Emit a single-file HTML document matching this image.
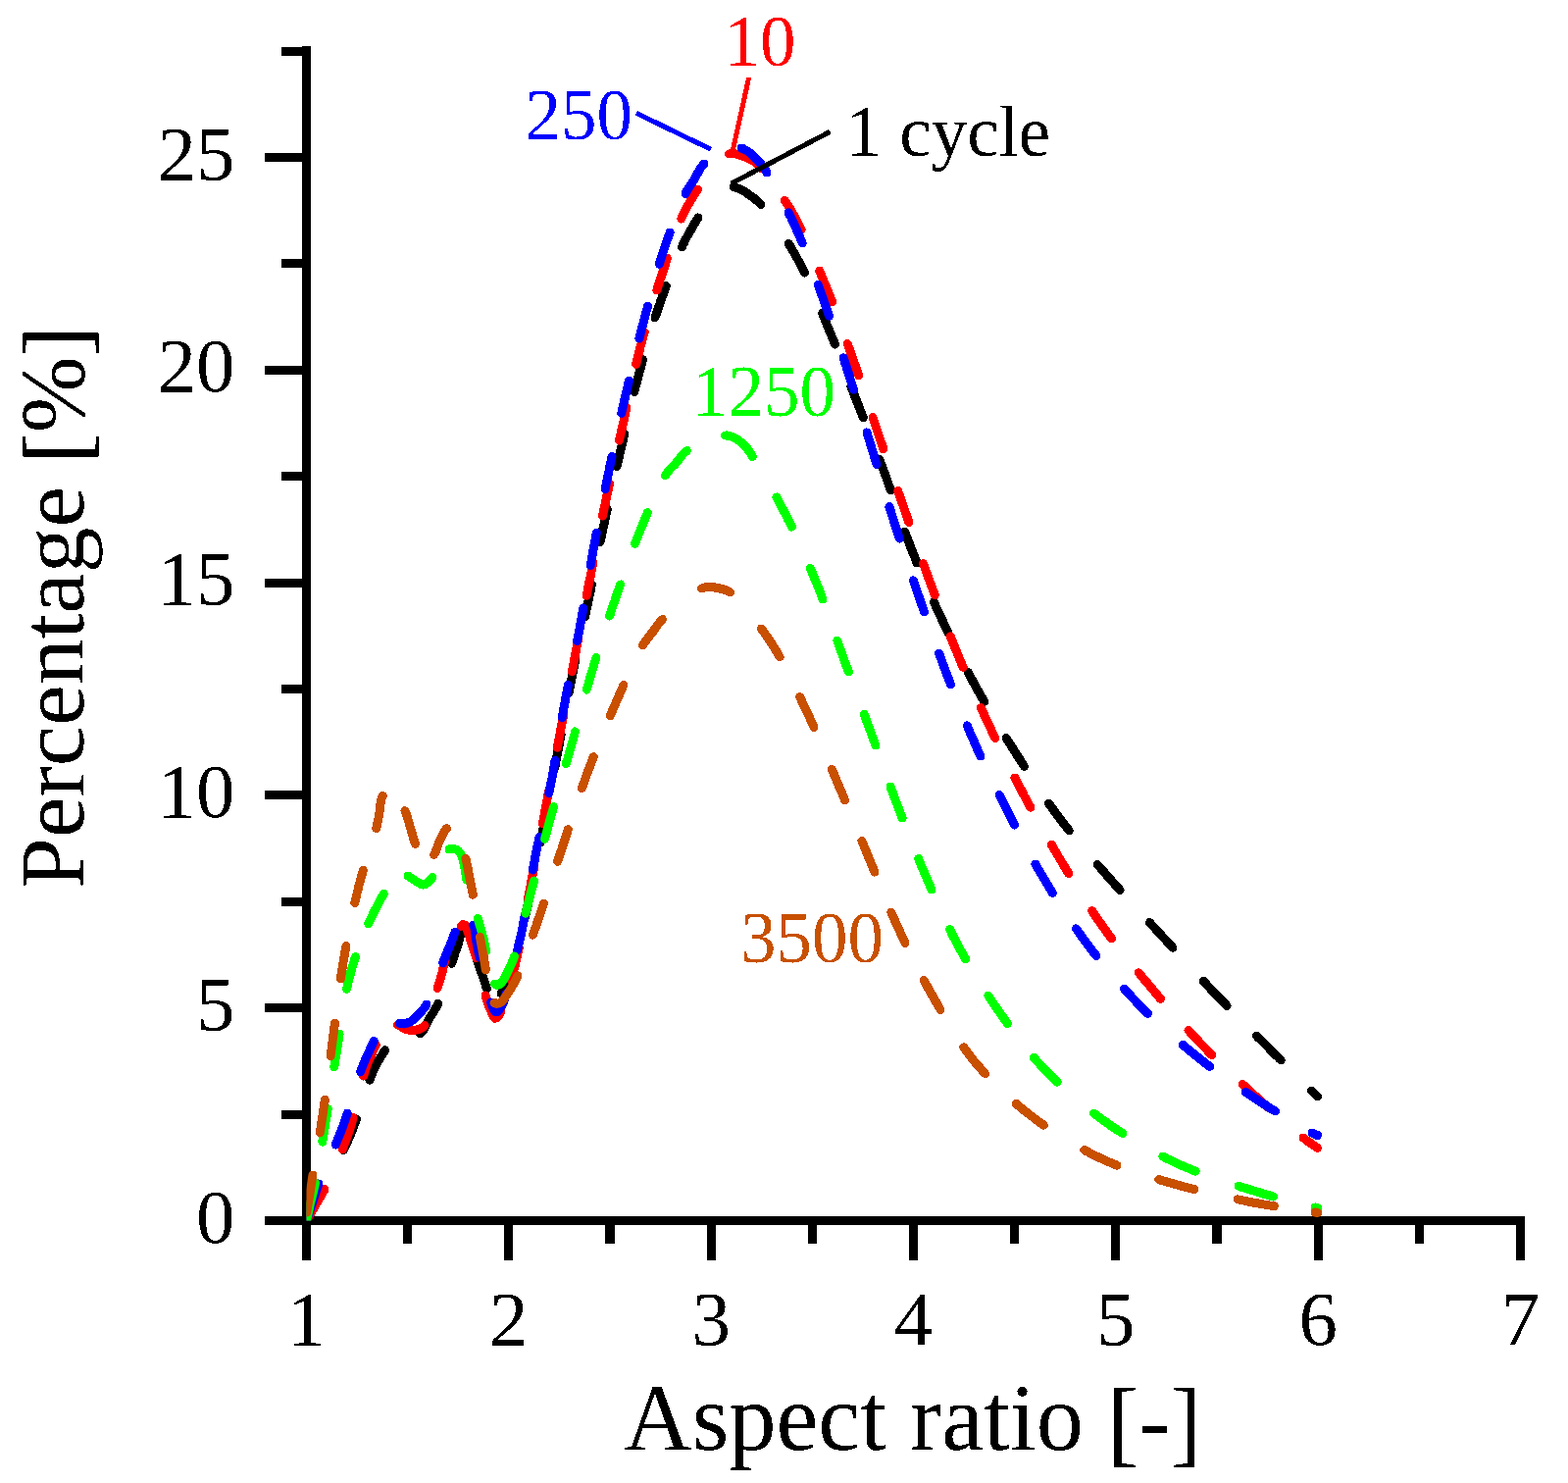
<!DOCTYPE html>
<html><head><meta charset="utf-8"><style>
html,body{margin:0;padding:0;background:#fff;}
svg{display:block;}
</style></head><body>
<svg width="1599" height="1512" viewBox="0 0 1599 1512">
<rect width="1599" height="1512" fill="#fff"/>
<defs><filter id="crisp" x="0" y="0" width="1599" height="1512" filterUnits="userSpaceOnUse" color-interpolation-filters="sRGB"><feComponentTransfer><feFuncA type="discrete" tableValues="0 1"/></feComponentTransfer></filter></defs><g filter="url(#crisp)">
<g fill="#000"><rect x="308" y="47" width="9" height="1238"/><rect x="308" y="1240" width="1247" height="9"/><rect x="270" y="1240.0" width="40" height="9"/><rect x="270" y="1023.2" width="40" height="9"/><rect x="270" y="806.4" width="40" height="9"/><rect x="270" y="589.6" width="40" height="9"/><rect x="270" y="372.8" width="40" height="9"/><rect x="270" y="156.0" width="40" height="9"/><rect x="287" y="1131.6" width="23" height="9"/><rect x="287" y="914.8" width="23" height="9"/><rect x="287" y="698.0" width="23" height="9"/><rect x="287" y="481.2" width="23" height="9"/><rect x="287" y="264.4" width="23" height="9"/><rect x="287" y="47.6" width="23" height="9"/><rect x="308.0" y="1247" width="9" height="38"/><rect x="514.3" y="1247" width="9" height="38"/><rect x="720.7" y="1247" width="9" height="38"/><rect x="927.0" y="1247" width="9" height="38"/><rect x="1133.3" y="1247" width="9" height="38"/><rect x="1339.7" y="1247" width="9" height="38"/><rect x="1546.0" y="1247" width="9" height="38"/><rect x="411.2" y="1247" width="9" height="21"/><rect x="617.5" y="1247" width="9" height="21"/><rect x="823.8" y="1247" width="9" height="21"/><rect x="1030.2" y="1247" width="9" height="21"/><rect x="1236.5" y="1247" width="9" height="21"/><rect x="1442.8" y="1247" width="9" height="21"/></g><g font-family="Liberation Serif, serif" font-size="79" fill="#000"><text x="239.5" y="1266.5" text-anchor="end">0</text><text x="239.5" y="1049.7" text-anchor="end">5</text><text x="239.5" y="832.9" text-anchor="end">10</text><text x="239.5" y="616.1" text-anchor="end">15</text><text x="239.5" y="399.3" text-anchor="end">20</text><text x="239.5" y="182.5" text-anchor="end">25</text><text x="312.5" y="1370.5" text-anchor="middle">1</text><text x="518.8" y="1370.5" text-anchor="middle">2</text><text x="725.2" y="1370.5" text-anchor="middle">3</text><text x="931.5" y="1370.5" text-anchor="middle">4</text><text x="1137.8" y="1370.5" text-anchor="middle">5</text><text x="1344.2" y="1370.5" text-anchor="middle">6</text><text x="1550.5" y="1370.5" text-anchor="middle">7</text></g><text x="636" y="1478.4" font-family="Liberation Serif, serif" font-size="96.5" fill="#000">Aspect ratio <tspan dy="5">[</tspan><tspan dy="-3">-</tspan><tspan dy="3">]</tspan></text><text transform="translate(84.7,906) rotate(-90)" x="0" y="0" font-family="Liberation Serif, serif" font-size="93.5" fill="#000">Percentage <tspan dy="4">[</tspan><tspan dy="-4">%</tspan><tspan dy="4">]</tspan></text>
<defs><clipPath id="pc"><rect x="312.5" y="0" width="1035.5" height="1244.5"/></clipPath></defs><g clip-path="url(#pc)" fill="none" stroke-width="9" stroke-linecap="round" stroke-linejoin="round"><path d="M312.5 1244.5L313.7 1242.3 314.9 1240.0 316.1 1237.8 317.4 1235.6 318.6 1233.3 319.8 1231.1 321.1 1228.9 322.3 1226.7 323.6 1224.5 325.0 1222.3 326.3 1220.2 327.5 1218.0 328.8 1215.7 330.0 1213.5M350.4 1172.6L351.4 1170.2 352.5 1167.8 353.6 1165.4 354.7 1163.0 355.7 1160.6 356.8 1158.2 357.8 1155.8 358.8 1153.4 359.8 1150.9 360.7 1148.5 361.6 1146.0 362.5 1143.5 363.4 1141.1M377.0 1101.0L378.0 1098.6 378.9 1096.1 379.9 1093.7 381.0 1091.3 382.1 1088.9 383.3 1086.6 384.5 1084.2 385.8 1081.9 387.1 1079.7 388.4 1077.4 389.8 1075.2 391.2 1072.9 392.7 1070.8M428.5 1054.0L430.3 1052.2 431.8 1050.1 433.1 1047.9 434.2 1045.6 435.3 1043.3 436.4 1041.0 437.7 1038.7 439.0 1036.5 440.4 1034.4 441.8 1032.2 443.1 1030.0 444.4 1027.8 445.6 1025.5 446.7 1023.2M460.7 982.2L461.5 979.7 462.3 977.2 463.1 974.7 463.9 972.2 464.7 969.7 465.6 967.2 466.4 964.8 467.2 962.3 467.9 959.7 468.6 957.2 469.3 954.7 470.0 952.2 470.8 949.7M485.8 975.8L486.5 978.3 487.3 980.8 488.0 983.3 488.8 985.8 489.6 988.3 490.5 990.8 491.5 993.2 492.4 995.7 493.2 998.2 494.0 1000.7 494.8 1003.2 495.6 1005.7 496.4 1008.2M511.0 1012.8L512.5 1010.6 513.9 1008.4 515.2 1006.1 516.5 1003.8 517.7 1001.5 518.9 999.2 520.1 996.8 521.1 994.4 522.1 992.0 522.9 989.5 523.8 987.0 524.6 984.5 525.3 982.0M535.5 935.1L536.0 932.6 536.6 930.0 537.1 927.5 537.6 924.9 538.2 922.3 538.7 919.8 539.3 917.2 539.9 914.7 540.4 912.1 541.0 909.6 541.5 907.0 542.1 904.4 542.6 901.9M551.2 858.7L551.7 856.1 552.2 853.6 552.7 851.0 553.2 848.4 553.7 845.9 554.2 843.3 554.8 840.7 555.3 838.1 555.8 835.6 556.2 833.0 556.7 830.4 557.2 827.9 557.7 825.3M565.9 782.2L566.3 779.6 566.8 777.1 567.3 774.5 567.8 771.9 568.3 769.4 568.8 766.8 569.2 764.2 569.7 761.6 570.2 759.1 570.7 756.5 571.2 753.9 571.7 751.4 572.1 748.8M580.2 705.7L580.7 703.1 581.2 700.5 581.7 698.0 582.2 695.4 582.7 692.8 583.2 690.3 583.8 687.7 584.3 685.2 584.8 682.6 585.3 680.0 585.9 677.5 586.4 674.9 587.0 672.4M596.4 629.1L597.0 626.6 597.5 624.0 598.1 621.5 598.6 618.9 599.2 616.3 599.7 613.8 600.3 611.2 600.8 608.7 601.3 606.1 601.9 603.5 602.4 601.0 602.9 598.4 603.4 595.8M612.1 552.6L612.6 550.1 613.2 547.5 613.7 545.0 614.2 542.4 614.8 539.8 615.3 537.3 615.9 534.7 616.4 532.2 617.0 529.6 617.5 527.1 618.1 524.5 618.6 521.9 619.2 519.4M629.1 475.6L629.7 473.0 630.2 470.5 630.8 467.9 631.4 465.4 632.0 462.8 632.6 460.3 633.2 457.7 633.8 455.2 634.4 452.6 635.0 450.1 635.5 447.5 636.1 445.0 636.7 442.4M646.8 399.5L647.5 396.9 648.1 394.4 648.8 391.9 649.4 389.3 650.1 386.8 650.8 384.3 651.4 381.7 652.1 379.2 652.8 376.7 653.5 374.2 654.2 371.6 654.8 369.1 655.5 366.6M668.0 323.8L668.9 321.3 669.7 318.8 670.5 316.4 671.3 313.9 672.2 311.4 673.1 308.9 673.9 306.5 674.8 304.0 675.7 301.5 676.6 299.1 677.5 296.6 678.4 294.1 679.3 291.7M695.4 251.8L696.5 249.4 697.7 247.1 698.8 244.7 700.0 242.4 701.3 240.1 702.6 237.7 703.9 235.5 705.2 233.2 706.5 230.9 707.8 228.6 709.2 226.4 710.6 224.1 712.0 221.9M748.0 190.5L750.5 191.2 752.9 192.1 755.3 193.1 757.6 194.3 759.8 195.6 762.0 197.1 764.1 198.6 766.2 200.1 768.3 201.7 770.3 203.2 772.3 204.8 774.2 206.6 776.0 208.5M804.0 248.2L805.4 250.4 806.8 252.6 808.1 254.9 809.4 257.2 810.8 259.5 812.1 261.8 813.3 264.1 814.6 266.4 815.8 268.7 817.0 271.0 818.2 273.4 819.4 275.7 820.5 278.1M838.5 319.4L839.5 321.9 840.5 324.3 841.5 326.7 842.5 329.1 843.5 331.6 844.5 334.0 845.5 336.4 846.5 338.8 847.5 341.3 848.5 343.7 849.5 346.1 850.4 348.6 851.4 351.0M867.9 393.9L868.8 396.3 869.8 398.8 870.7 401.2 871.6 403.7 872.6 406.1 873.5 408.6 874.5 411.0 875.4 413.5 876.4 415.9 877.3 418.3 878.3 420.8 879.2 423.2 880.2 425.7M896.6 468.0L897.5 470.4 898.5 472.9 899.4 475.3 900.3 477.8 901.2 480.2 902.1 482.7 903.1 485.1 904.0 487.6 904.8 490.1 905.7 492.5 906.6 495.0 907.5 497.5 908.3 499.9M922.8 542.1L923.7 544.6 924.6 547.1 925.5 549.5 926.5 552.0 927.4 554.4 928.3 556.9 929.3 559.3 930.2 561.8 931.2 564.2 932.2 566.6 933.2 569.1 934.1 571.5 935.1 573.9M952.4 613.8L953.5 616.2 954.5 618.6 955.6 621.0 956.7 623.3 957.8 625.7 958.9 628.1 960.1 630.5 961.2 632.9 962.3 635.2 963.4 637.6 964.5 640.0 965.7 642.4 966.8 644.7M987.2 685.4L988.4 687.8 989.7 690.1 990.9 692.4 992.1 694.7 993.4 697.0 994.7 699.3 995.9 701.7 997.2 704.0 998.5 706.2 999.8 708.5 1001.1 710.8 1002.4 713.1 1003.7 715.4M1026.1 752.5L1027.5 754.7 1028.9 757.0 1030.4 759.2 1031.8 761.4 1033.2 763.7 1034.6 765.9 1036.0 768.1 1037.4 770.3 1038.8 772.6 1040.3 774.8 1041.7 777.0 1043.1 779.2 1044.5 781.5M1069.6 819.1L1071.1 821.3 1072.7 823.5 1074.2 825.6 1075.8 827.8 1077.3 829.9 1078.9 832.0 1080.5 834.2 1082.1 836.3 1083.7 838.4 1085.3 840.5 1087.0 842.6 1088.6 844.7 1090.2 846.8M1119.2 881.4L1121.0 883.4 1122.7 885.4 1124.5 887.4 1126.2 889.5 1128.0 891.5 1129.7 893.5 1131.5 895.5 1133.2 897.5 1135.0 899.5 1136.8 901.5 1138.5 903.5 1140.3 905.5 1142.1 907.5M1172.4 940.6L1174.2 942.6 1176.0 944.5 1177.9 946.5 1179.7 948.5 1181.5 950.4 1183.3 952.4 1185.1 954.4 1186.9 956.4 1188.7 958.3 1190.5 960.3 1192.3 962.3 1194.1 964.3 1195.9 966.3M1227.0 1000.2L1228.9 1002.2 1230.7 1004.1 1232.5 1006.1 1234.4 1008.0 1236.2 1010.0 1238.1 1011.9 1239.9 1013.9 1241.8 1015.8 1243.6 1017.7 1245.5 1019.7 1247.4 1021.6 1249.3 1023.5 1251.1 1025.5M1281.5 1056.1L1283.4 1058.0 1285.3 1059.9 1287.2 1061.8 1289.2 1063.7 1291.1 1065.6 1293.0 1067.5 1294.8 1069.5 1296.7 1071.4 1298.6 1073.3 1300.6 1075.2 1302.5 1077.1 1304.4 1079.0 1306.3 1080.9M1337.5 1112.0L1339.5 1114.0 1341.5 1116.0 1343.5 1118.0" stroke="#000"/><path d="M312.5 1244.5L313.8 1242.2 315.1 1239.9 316.4 1237.6 317.8 1235.3 319.1 1233.1 320.4 1230.8 321.7 1228.5 323.1 1226.2 324.4 1224.0 325.8 1221.7 327.2 1219.4 328.5 1217.2 329.8 1214.8 331.0 1212.5M349.2 1171.8L350.1 1169.4 351.1 1166.9 352.0 1164.5 353.0 1162.1 353.9 1159.6 354.8 1157.1 355.6 1154.7 356.5 1152.2 357.2 1149.7 358.0 1147.2 358.7 1144.7 359.4 1142.1 360.1 1139.6M370.7 1097.1L371.5 1094.6 372.2 1092.1 373.0 1089.6 373.9 1087.1 374.7 1084.7 375.7 1082.2 376.7 1079.8 377.8 1077.4 378.8 1075.0 379.9 1072.6 381.0 1070.2 382.1 1067.8 383.3 1065.5M405.5 1045.0L407.8 1045.9 409.9 1047.3 412.1 1048.6 414.4 1049.5 416.9 1050.1 419.3 1050.4 421.8 1050.5 424.3 1050.1 426.8 1049.5 429.1 1048.5 431.3 1047.3 433.0 1045.5M446.0 1007.5L446.8 1004.9 447.7 1002.4 448.5 999.8 449.3 997.2 450.0 994.7 450.8 992.1 451.4 989.4 451.9 986.8 452.5 984.2 453.2 981.6 454.0 979.0M470.0 944.5L471.9 942.8 474.2 943.0 475.3 945.2 476.2 947.6 477.0 950.0 477.9 952.4 478.7 954.8 479.4 957.2 480.1 959.6 480.9 962.0 481.6 964.5 482.4 966.9 483.2 969.3 484.0 971.7 484.8 974.1 485.5 976.5M495.0 1015.0L495.8 1017.4 496.5 1019.9 497.4 1022.3 498.2 1024.7 499.2 1027.1 500.2 1029.5 501.2 1031.8 502.1 1034.2 503.2 1036.5 504.8 1038.4 507.1 1037.5 508.8 1035.6 510.0 1033.4 511.0 1031.0M521.1 999.4L521.8 996.9 522.5 994.4 523.2 991.9 523.9 989.3 524.5 986.8 525.2 984.3 525.8 981.7 526.4 979.2 527.0 976.6 527.6 974.1 528.1 971.5 528.7 969.0 529.2 966.4M538.4 917.2L538.9 914.6 539.3 912.1 539.8 909.5 540.3 906.9 540.8 904.4 541.3 901.8 541.7 899.2 542.2 896.6 542.7 894.1 543.2 891.5 543.7 888.9 544.2 886.4 544.7 883.8M553.3 839.7L553.8 837.1 554.3 834.6 554.8 832.0 555.3 829.4 555.8 826.9 556.3 824.3 556.7 821.7 557.2 819.1 557.7 816.6 558.2 814.0 558.7 811.4 559.2 808.9 559.7 806.3M568.3 762.2L568.8 759.6 569.3 757.1 569.8 754.5 570.3 751.9 570.8 749.4 571.3 746.8 571.7 744.2 572.2 741.6 572.7 739.1 573.2 736.5 573.7 733.9 574.2 731.4 574.7 728.8M583.3 684.7L583.8 682.1 584.3 679.6 584.8 677.0 585.3 674.4 585.8 671.9 586.3 669.3 586.7 666.7 587.2 664.1 587.7 661.6 588.2 659.0 588.7 656.4 589.2 653.9 589.7 651.3M598.2 607.2L598.7 604.6 599.2 602.0 599.7 599.5 600.2 596.9 600.7 594.3 601.2 591.8 601.8 589.2 602.3 586.7 602.8 584.1 603.3 581.5 603.8 579.0 604.3 576.4 604.8 573.8M614.5 526.1L615.0 523.6 615.6 521.0 616.1 518.5 616.6 515.9 617.2 513.3 617.7 510.8 618.3 508.2 618.8 505.7 619.4 503.1 619.9 500.5 620.5 498.0 621.0 495.4 621.6 492.9M631.4 449.1L632.0 446.5 632.6 444.0 633.2 441.4 633.8 438.9 634.3 436.3 634.9 433.8 635.5 431.2 636.1 428.7 636.6 426.1 637.2 423.6 637.7 421.0 638.3 418.4 638.9 415.9M648.7 371.4L649.3 368.9 649.9 366.3 650.5 363.8 651.2 361.2 651.8 358.7 652.5 356.2 653.1 353.6 653.8 351.1 654.5 348.6 655.1 346.0 655.8 343.5 656.5 341.0 657.2 338.5M669.8 295.8L670.6 293.3 671.4 290.8 672.2 288.3 673.0 285.8 673.9 283.3 674.7 280.8 675.5 278.4 676.3 275.9 677.2 273.4 678.0 270.9 678.8 268.4 679.6 265.9 680.4 263.4M694.8 223.0L695.8 220.6 696.9 218.2 698.1 215.8 699.3 213.5 700.5 211.2 701.7 208.8 703.1 206.6 704.4 204.3 705.8 202.0 707.2 199.8 708.6 197.6 710.0 195.4 711.5 193.2M743.5 157.0L746.0 156.4 748.5 156.6 750.9 157.2 753.4 157.8 755.9 158.6 758.2 159.4 760.6 160.4 762.9 161.4 765.2 162.5 767.5 163.7 769.6 165.0 771.7 166.5 773.6 168.2 775.4 170.1 777.0 172.0M800.3 204.3L801.7 206.5 803.1 208.7 804.5 211.0 805.9 213.2 807.2 215.5 808.5 217.8 809.8 220.0 811.1 222.4 812.4 224.7 813.6 227.0 814.8 229.4 816.0 231.7 817.1 234.1M835.7 276.0L836.7 278.5 837.7 280.9 838.7 283.3 839.7 285.7 840.7 288.2 841.7 290.6 842.7 293.0 843.7 295.4 844.7 297.9 845.6 300.3 846.6 302.7 847.6 305.2 848.5 307.6M864.3 350.5L865.2 352.9 866.1 355.4 866.9 357.9 867.8 360.3 868.7 362.8 869.6 365.3 870.4 367.7 871.3 370.2 872.2 372.7 873.0 375.2 873.9 377.6 874.7 380.1 875.6 382.6M890.0 425.6L890.8 428.1 891.6 430.5 892.5 433.0 893.3 435.5 894.1 438.0 895.0 440.5 895.8 442.9 896.7 445.4 897.5 447.9 898.4 450.4 899.2 452.8 900.1 455.3 900.9 457.8M915.7 500.4L916.6 502.9 917.4 505.4 918.3 507.8 919.1 510.3 920.0 512.8 920.9 515.3 921.7 517.7 922.6 520.2 923.5 522.7 924.3 525.2 925.2 527.6 926.0 530.1 926.9 532.6M941.5 574.5L942.4 577.0 943.3 579.4 944.2 581.9 945.1 584.3 946.0 586.8 946.8 589.3 947.8 591.7 948.7 594.2 949.6 596.6 950.5 599.1 951.4 601.6 952.3 604.0 953.2 606.5M969.2 648.8L970.2 651.2 971.2 653.7 972.1 656.1 973.1 658.5 974.1 661.0 975.1 663.4 976.1 665.8 977.1 668.2 978.1 670.7 979.1 673.1 980.1 675.5 981.1 677.9 982.2 680.3M1000.3 721.5L1001.4 723.9 1002.5 726.3 1003.6 728.7 1004.7 731.1 1005.8 733.4 1006.9 735.8 1008.1 738.2 1009.2 740.6 1010.3 742.9 1011.4 745.3 1012.5 747.7 1013.7 750.1 1014.8 752.4M1034.9 792.9L1036.1 795.3 1037.3 797.6 1038.5 799.9 1039.7 802.3 1041.0 804.6 1042.2 806.9 1043.4 809.3 1044.6 811.6 1045.9 813.9 1047.1 816.2 1048.4 818.5 1049.6 820.9 1050.9 823.2M1072.3 861.2L1073.6 863.5 1075.0 865.8 1076.3 868.1 1077.6 870.3 1079.0 872.6 1080.3 874.9 1081.7 877.1 1083.0 879.4 1084.4 881.7 1085.7 883.9 1087.1 886.2 1088.4 888.4 1089.8 890.7M1113.6 928.6L1115.0 930.8 1116.5 933.0 1118.0 935.2 1119.5 937.4 1121.0 939.5 1122.5 941.7 1124.1 943.9 1125.6 946.0 1127.2 948.2 1128.7 950.3 1130.3 952.5 1131.9 954.6 1133.5 956.7M1161.2 991.7L1162.9 993.7 1164.6 995.8 1166.3 997.8 1168.0 999.9 1169.7 1001.9 1171.4 1004.0 1173.2 1006.0 1174.9 1008.1 1176.6 1010.1 1178.3 1012.2 1180.0 1014.2 1181.7 1016.2 1183.5 1018.3M1211.9 1050.5L1213.7 1052.4 1215.5 1054.4 1217.3 1056.4 1219.2 1058.3 1221.0 1060.3 1222.9 1062.2 1224.7 1064.2 1226.6 1066.1 1228.5 1068.0 1230.3 1069.9 1232.2 1071.9 1234.1 1073.8 1236.0 1075.7M1267.1 1105.5L1268.9 1107.2 1270.8 1108.9 1272.6 1110.6 1274.4 1112.3 1276.3 1114.0 1278.1 1115.7 1280.0 1117.4 1281.9 1119.1 1283.7 1120.8 1285.6 1122.5 1287.4 1124.2 1289.3 1125.8 1291.2 1127.5 1293.0 1129.2M1329.0 1160.0L1331.0 1161.6 1333.1 1163.1 1335.1 1164.6 1337.2 1166.0 1339.3 1167.5 1341.4 1168.9 1343.5 1170.4" stroke="#f00"/><path d="M312.5 1244.5L313.3 1242.0 314.2 1239.5 315.0 1237.0 315.8 1234.5 316.7 1232.0 317.5 1229.5 318.3 1227.0 319.2 1224.5 320.0 1222.0 320.8 1219.5 321.6 1217.0 322.4 1214.5 323.2 1212.0 324.1 1209.5 325.0 1207.0M342.2 1167.0L343.2 1164.6 344.2 1162.1 345.2 1159.7 346.2 1157.3 347.2 1154.9 348.1 1152.4 349.1 1150.0 350.0 1147.5 350.8 1145.0 351.7 1142.6 352.5 1140.1 353.4 1137.6 354.2 1135.1M367.7 1092.7L368.5 1090.3 369.5 1087.8 370.4 1085.3 371.4 1082.9 372.4 1080.5 373.4 1078.1 374.6 1075.7 375.7 1073.3 376.8 1071.0 377.9 1068.6 379.1 1066.2 380.2 1063.9 381.4 1061.5M407.5 1043.5L410.1 1043.6 412.6 1043.7 415.1 1043.2 417.4 1042.2 419.7 1040.9 421.7 1039.4 423.6 1037.7 425.4 1035.9 427.1 1034.0 428.8 1032.1 430.5 1030.2 432.2 1028.3 433.7 1026.2 435.0 1024.0M451.7 981.8L452.6 979.4 453.6 976.9 454.5 974.5 455.5 972.0 456.5 969.6 457.5 967.2 458.5 964.8 459.5 962.4 460.5 959.9 461.4 957.5 462.3 955.0 463.2 952.5 464.1 950.1M482.5 943.0L483.7 945.3 484.3 947.8 484.6 950.4 484.9 953.0 485.1 955.6 485.5 958.1 486.0 960.7 486.5 963.3 487.0 965.8 487.4 968.4 487.9 970.9 488.5 973.5 489.0 976.0M500.5 1022.0L501.4 1024.4 502.4 1026.9 503.4 1029.2 504.9 1031.4 507.2 1031.6 509.0 1029.7 510.5 1027.5 511.8 1025.3 513.0 1023.0 513.9 1020.5 514.6 1018.0 515.3 1015.5 516.0 1013.0M527.7 968.4L528.3 965.8 528.9 963.3 529.5 960.7 530.1 958.2 530.7 955.6 531.2 953.1 531.8 950.5 532.3 948.0 532.9 945.4 533.4 942.8 533.9 940.3 534.4 937.7 534.9 935.1M543.4 886.9L543.8 884.3 544.3 881.8 544.8 879.2 545.3 876.6 545.7 874.1 546.2 871.5 546.8 868.9 547.3 866.4 547.8 863.8 548.3 861.2 548.9 858.7 549.4 856.1 549.9 853.5M559.7 808.7L560.3 806.1 560.8 803.5 561.3 801.0 561.8 798.4 562.4 795.9 562.9 793.3 563.3 790.7 563.8 788.1 564.3 785.6 564.8 783.0 565.2 780.4 565.7 777.8 566.1 775.3M573.3 731.7L573.7 729.2 574.1 726.6 574.6 724.0 575.0 721.4 575.5 718.9 576.0 716.3 576.4 713.7 576.9 711.1 577.4 708.6 577.9 706.0 578.4 703.4 578.9 700.9 579.4 698.3M588.6 653.5L589.1 650.9 589.6 648.4 590.1 645.8 590.6 643.2 591.1 640.7 591.6 638.1 592.0 635.5 592.5 632.9 593.0 630.4 593.4 627.8 593.9 625.2 594.4 622.6 594.8 620.1M602.2 576.5L602.7 574.0 603.1 571.4 603.6 568.8 604.0 566.2 604.5 563.7 605.0 561.1 605.4 558.5 605.9 555.9 606.4 553.4 606.9 550.8 607.4 548.2 607.8 545.7 608.3 543.1M617.1 498.7L617.6 496.1 618.1 493.5 618.6 491.0 619.2 488.4 619.7 485.8 620.2 483.3 620.8 480.7 621.3 478.2 621.8 475.6 622.4 473.0 622.9 470.5 623.5 467.9 624.0 465.4M633.7 421.4L634.3 418.8 634.9 416.3 635.4 413.7 636.0 411.2 636.6 408.6 637.2 406.1 637.8 403.5 638.4 401.0 639.0 398.4 639.6 395.9 640.2 393.3 640.8 390.8 641.4 388.2M651.9 345.0L652.6 342.4 653.2 339.9 653.9 337.4 654.5 334.8 655.2 332.3 655.9 329.8 656.5 327.2 657.2 324.7 657.9 322.2 658.5 319.6 659.2 317.1 659.9 314.6 660.5 312.1M672.4 269.2L673.1 266.7 673.9 264.2 674.7 261.7 675.5 259.2 676.3 256.7 677.1 254.2 677.9 251.8 678.8 249.3 679.6 246.8 680.5 244.3 681.3 241.9 682.2 239.4 683.1 236.9M699.0 197.5L700.2 195.2 701.4 193.0 702.8 190.8 704.1 188.6 705.6 186.5 707.0 184.3 708.4 182.2 709.7 179.9 710.9 177.7 712.1 175.4 713.4 173.2 714.7 171.0 716.3 168.9 718.0 167.0M756.0 151.0L758.4 152.0 760.8 153.2 763.0 154.5 765.1 156.1 767.0 157.9 768.8 159.8 770.7 161.7 772.5 163.5 774.3 165.4 776.1 167.4 777.7 169.4 779.2 171.5 780.7 173.8 782.0 176.0M804.1 216.8L805.3 219.2 806.5 221.5 807.6 223.9 808.7 226.2 809.9 228.6 811.0 231.0 812.0 233.4 813.1 235.8 814.2 238.2 815.2 240.6 816.2 243.0 817.2 245.5 818.2 247.9M834.1 290.2L835.0 292.6 835.9 295.1 836.8 297.6 837.7 300.0 838.6 302.5 839.5 305.0 840.3 307.4 841.2 309.9 842.1 312.4 843.0 314.8 843.9 317.3 844.7 319.8 845.6 322.2M860.0 364.7L860.8 367.2 861.6 369.7 862.5 372.2 863.3 374.7 864.1 377.2 864.9 379.7 865.7 382.1 866.5 384.6 867.3 387.1 868.1 389.6 868.9 392.1 869.7 394.6 870.5 397.1M884.0 440.9L884.8 443.4 885.5 445.9 886.3 448.4 887.1 450.9 887.8 453.4 888.6 455.9 889.4 458.5 890.2 461.0 890.9 463.5 891.7 466.0 892.4 468.5 893.2 471.0 893.9 473.5M906.9 516.6L907.7 519.1 908.5 521.6 909.3 524.1 910.0 526.6 910.8 529.1 911.6 531.6 912.4 534.0 913.2 536.5 914.0 539.0 914.8 541.5 915.6 544.0 916.4 546.5 917.2 549.0M931.4 591.8L932.2 594.3 933.1 596.8 933.9 599.2 934.8 601.7 935.6 604.2 936.5 606.7 937.3 609.1 938.2 611.6 939.0 614.1 939.9 616.6 940.8 619.0 941.6 621.5 942.5 624.0M957.5 666.0L958.4 668.5 959.4 671.0 960.3 673.4 961.2 675.9 962.1 678.3 963.0 680.8 964.0 683.2 964.9 685.7 965.8 688.1 966.8 690.6 967.7 693.0 968.6 695.5 969.6 697.9M986.3 739.8L987.3 742.2 988.3 744.7 989.3 747.1 990.4 749.5 991.4 751.9 992.5 754.3 993.5 756.7 994.6 759.1 995.7 761.5 996.7 763.9 997.8 766.3 998.9 768.7 1000.0 771.0M1019.1 810.6L1020.3 812.9 1021.5 815.2 1022.6 817.6 1023.8 819.9 1025.0 822.3 1026.2 824.6 1027.4 827.0 1028.6 829.3 1029.8 831.7 1031.0 834.0 1032.2 836.3 1033.4 838.7 1034.6 841.0M1055.9 881.0L1057.2 883.3 1058.5 885.6 1059.8 887.8 1061.1 890.1 1062.5 892.4 1063.8 894.7 1065.2 896.9 1066.5 899.2 1067.9 901.4 1069.3 903.7 1070.6 905.9 1072.0 908.2 1073.4 910.4M1097.4 946.8L1098.9 949.0 1100.4 951.2 1102.0 953.3 1103.6 955.5 1105.1 957.6 1106.7 959.7 1108.3 961.9 1109.9 964.0 1111.5 966.1 1113.1 968.2 1114.7 970.3 1116.4 972.4 1118.0 974.5M1146.4 1008.2L1148.2 1010.1 1150.0 1012.1 1151.8 1014.1 1153.7 1016.0 1155.5 1018.0 1157.4 1019.9 1159.2 1021.9 1161.1 1023.8 1163.0 1025.7 1164.9 1027.6 1166.8 1029.5 1168.7 1031.4 1170.6 1033.3M1206.1 1065.2L1208.1 1066.9 1210.0 1068.5 1211.9 1070.1 1213.9 1071.7 1215.9 1073.3 1217.8 1074.9 1219.8 1076.5 1221.8 1078.1 1223.8 1079.7 1225.8 1081.2 1227.8 1082.8 1229.8 1084.3 1231.8 1085.9 1233.8 1087.4M1270.3 1113.4L1272.5 1114.9 1274.6 1116.3 1276.7 1117.7 1278.9 1119.2 1281.0 1120.6 1283.2 1122.0 1285.3 1123.4 1287.5 1124.8 1289.6 1126.2 1291.8 1127.6 1293.9 1129.0 1296.1 1130.3 1298.3 1131.7 1300.5 1133.0M1338.0 1155.0L1340.7 1156.3 1343.5 1157.5" stroke="#00f"/><path d="M312.5 1244.5L313.1 1241.9 313.7 1239.4 314.3 1236.8 314.9 1234.2 315.5 1231.7 316.0 1229.1 316.6 1226.5 317.2 1224.0 317.9 1221.4 318.5 1218.8 319.2 1216.3 319.8 1213.7 320.4 1211.2 321.0 1208.6 321.5 1206.0M328.8 1164.0L329.2 1161.4 329.6 1158.8 330.0 1156.2 330.4 1153.7 330.9 1151.1 331.3 1148.5 331.7 1145.9 332.1 1143.3 332.5 1140.7 333.0 1138.2 333.4 1135.6 333.8 1133.0 334.2 1130.4M340.8 1087.8L341.2 1085.2 341.6 1082.6 342.0 1080.0 342.4 1077.5 342.9 1074.9 343.3 1072.3 343.7 1069.7 344.1 1067.1 344.5 1064.5 344.9 1062.0 345.3 1059.4 345.7 1056.8 346.1 1054.2M353.5 1008.5L354.1 1006.0 354.6 1003.4 355.2 1000.9 355.8 998.3 356.5 995.8 357.2 993.3 357.9 990.7 358.6 988.2 359.3 985.7 360.1 983.2 360.9 980.7 361.7 978.2 362.5 975.7M375.7 941.6L376.8 939.2 377.9 936.8 379.1 934.4 380.2 932.1 381.4 929.7 382.6 927.4 383.8 925.0 385.0 922.7 386.3 920.4 387.5 918.1 388.8 915.8 390.1 913.5 391.4 911.2M416.0 893.0L418.2 894.3 420.3 895.8 422.3 897.3 424.4 898.7 426.6 899.9 428.8 901.2 431.2 902.0 433.7 901.4 435.8 900.0 437.7 898.3 439.5 896.5 441.0 894.5M458.0 866.0L460.4 865.2 463.0 865.4 465.4 866.2 467.5 867.7 469.1 869.7 470.5 871.9 471.5 874.3 472.2 876.8 472.8 879.3 473.4 881.8 473.8 884.3 474.2 886.9 474.6 889.4 475.0 891.9 475.5 894.5 476.0 897.0M487.3 936.6L488.1 939.2 488.8 941.7 489.5 944.2 490.3 946.7 491.0 949.2 491.7 951.7 492.3 954.3 493.0 956.8 493.5 959.4 494.1 961.9 494.6 964.5 495.1 967.0 495.6 969.6M504.5 1003.0L506.7 1004.2 509.2 1003.9 511.1 1002.3 512.6 1000.2 514.0 998.1 515.3 995.9 516.4 993.6 517.5 991.3 518.6 989.0 519.6 986.7 520.7 984.4 521.8 982.1 522.7 979.8 523.7 977.4 524.5 975.0M536.0 931.2L536.7 928.6 537.3 926.1 537.9 923.6 538.6 921.0 539.2 918.5 539.9 916.0 540.5 913.4 541.2 910.9 541.8 908.4 542.5 905.8 543.2 903.3 543.8 900.8 544.5 898.2M555.6 855.4L556.2 852.9 556.9 850.4 557.6 847.8 558.3 845.3 559.0 842.8 559.7 840.3 560.3 837.7 561.0 835.2 561.7 832.7 562.4 830.2 563.2 827.7 563.9 825.1 564.6 822.6M577.3 778.6L578.0 776.0 578.8 773.5 579.5 771.0 580.2 768.5 580.9 766.0 581.6 763.5 582.4 760.9 583.1 758.4 583.8 755.9 584.5 753.4 585.2 750.9 585.9 748.3 586.5 745.8M598.3 703.1L599.0 700.6 599.7 698.1 600.4 695.6 601.1 693.1 601.9 690.6 602.6 688.1 603.4 685.5 604.1 683.0 604.9 680.5 605.6 678.0 606.4 675.5 607.2 673.0 608.0 670.5M621.6 628.1L622.4 625.6 623.2 623.2 624.0 620.7 624.9 618.2 625.7 615.7 626.6 613.2 627.4 610.8 628.3 608.3 629.1 605.8 630.0 603.3 630.8 600.9 631.7 598.4 632.5 595.9M647.5 554.3L648.5 551.9 649.4 549.5 650.4 547.0 651.3 544.6 652.3 542.1 653.3 539.7 654.3 537.3 655.3 534.9 656.3 532.4 657.3 530.0 658.3 527.6 659.3 525.2 660.3 522.7M678.5 484.5L680.0 482.4 681.5 480.4 683.2 478.4 685.0 476.6 686.9 474.8 688.7 472.9 690.3 471.0 691.9 469.0 693.4 466.9 695.0 464.8 696.6 462.9 698.5 461.1 700.5 459.5M739.5 444.0L742.1 444.1 744.7 444.6 747.2 445.6 749.5 446.7 751.8 448.0 754.0 449.5 756.0 451.2 758.0 453.0 759.8 454.8 761.6 456.8 763.2 458.9 764.7 461.1 766.1 463.3 767.5 465.5M791.8 506.9L793.0 509.2 794.3 511.5 795.5 513.8 796.8 516.2 798.0 518.5 799.2 520.8 800.4 523.2 801.6 525.5 802.8 527.9 803.9 530.2 805.1 532.6 806.2 534.9 807.4 537.3M826.3 579.3L827.3 581.7 828.3 584.1 829.3 586.5 830.3 588.9 831.3 591.4 832.3 593.8 833.3 596.2 834.3 598.6 835.2 601.1 836.2 603.5 837.1 606.0 838.0 608.4 839.0 610.9M853.8 653.0L854.7 655.4 855.5 657.9 856.4 660.4 857.3 662.8 858.2 665.3 859.1 667.8 859.9 670.2 860.8 672.7 861.7 675.2 862.6 677.6 863.5 680.1 864.5 682.5 865.4 685.0M881.2 728.0L882.1 730.5 883.0 732.9 883.9 735.4 884.8 737.9 885.7 740.3 886.6 742.8 887.5 745.2 888.4 747.7 889.3 750.2 890.2 752.6 891.1 755.1 892.0 757.5 892.9 760.0M908.0 802.0L908.9 804.5 909.9 807.0 910.8 809.4 911.7 811.9 912.6 814.3 913.5 816.8 914.5 819.2 915.4 821.7 916.3 824.1 917.3 826.6 918.2 829.0 919.1 831.5 920.1 833.9M936.6 875.5L937.6 877.9 938.6 880.3 939.6 882.8 940.6 885.2 941.7 887.6 942.7 890.0 943.7 892.4 944.8 894.8 945.8 897.2 946.8 899.6 947.9 902.0 948.9 904.4 950.0 906.9M968.6 947.6L969.8 949.9 970.9 952.3 972.1 954.6 973.3 957.0 974.5 959.3 975.8 961.6 977.0 964.0 978.3 966.3 979.5 968.6 980.8 970.9 982.1 973.2 983.4 975.5 984.7 977.8M1007.8 1015.3L1009.3 1017.5 1010.8 1019.7 1012.2 1021.9 1013.7 1024.1 1015.2 1026.2 1016.7 1028.4 1018.3 1030.6 1019.8 1032.8 1021.3 1034.9 1022.8 1037.1 1024.3 1039.3 1025.9 1041.4 1027.4 1043.6M1054.1 1078.1L1055.8 1080.1 1057.6 1082.1 1059.4 1084.1 1061.2 1086.1 1063.0 1088.1 1064.9 1090.0 1066.7 1092.0 1068.6 1093.9 1070.5 1095.8 1072.4 1097.7 1074.3 1099.6 1076.2 1101.5 1078.2 1103.3M1115.4 1134.9L1117.4 1136.5 1119.4 1138.0 1121.5 1139.5 1123.6 1141.0 1125.6 1142.5 1127.7 1144.0 1129.8 1145.5 1131.9 1147.0 1134.0 1148.4 1136.1 1149.9 1138.2 1151.3 1140.4 1152.7 1142.5 1154.1 1144.6 1155.5M1185.7 1179.0L1188.0 1180.2 1190.4 1181.4 1192.7 1182.5 1195.1 1183.7 1197.4 1184.8 1199.8 1185.9 1202.2 1187.0 1204.6 1188.1 1207.0 1189.1 1209.4 1190.2 1211.8 1191.2 1214.2 1192.2 1216.7 1193.2 1219.1 1194.2M1263.0 1209.3L1265.5 1210.1 1268.1 1210.9 1270.6 1211.6 1273.2 1212.4 1275.7 1213.2 1278.3 1214.0 1280.8 1214.8 1283.3 1215.6 1285.9 1216.4 1288.5 1217.1 1291.0 1217.9 1293.6 1218.6 1296.2 1219.3 1298.7 1220.0M1341.0 1231.0L1343.5 1231.5" stroke="#0f0"/><path d="M313.0 1236.0L313.3 1233.5 313.7 1230.9 314.1 1228.4 314.5 1225.9 314.9 1223.3 315.4 1220.8 315.8 1218.3 316.2 1215.7 316.6 1213.2 317.0 1210.7 317.4 1208.1 317.8 1205.6 318.2 1203.1 318.6 1200.5 319.0 1198.0M326.3 1154.8L326.7 1152.2 327.1 1149.6 327.5 1147.0 327.9 1144.5 328.3 1141.9 328.7 1139.3 329.1 1136.7 329.5 1134.1 329.8 1131.5 330.2 1128.9 330.6 1126.4 330.9 1123.8 331.3 1121.2M337.1 1076.7L337.4 1074.1 337.8 1071.5 338.1 1068.9 338.4 1066.3 338.8 1063.7 339.1 1061.1 339.5 1058.5 339.8 1055.9 340.2 1053.3 340.5 1050.7 340.8 1048.1 341.2 1045.5 341.5 1042.9M347.4 998.0L347.7 995.4 348.1 992.8 348.5 990.2 348.9 987.7 349.4 985.1 349.8 982.5 350.2 979.9 350.7 977.3 351.1 974.8 351.6 972.2 352.0 969.6 352.5 967.0 352.9 964.5M361.8 920.3L362.4 917.8 363.0 915.2 363.6 912.7 364.2 910.2 364.9 907.6 365.5 905.1 366.1 902.5 366.8 900.0 367.5 897.5 368.2 895.0 368.9 892.4 369.7 889.9 370.4 887.4M383.7 844.6L384.3 842.1 384.9 839.5 385.4 836.9 385.9 834.3 386.3 831.8 386.8 829.2 387.2 826.6 387.6 824.0 387.8 821.4 388.1 818.8 388.5 816.2 389.1 813.7 390.2 811.3M412.9 826.6L413.9 828.9 414.8 831.3 415.5 833.7 416.3 836.1 417.0 838.6 417.7 841.0 418.4 843.4 419.1 845.9 419.8 848.3 420.5 850.7 421.1 853.2 421.8 855.6 422.6 858.0 423.5 860.4M442.5 871.5L443.8 869.3 444.7 867.0 445.5 864.7 446.3 862.3 447.2 859.9 448.2 857.6 449.2 855.4 450.3 853.1 451.4 850.9 452.6 848.7 453.9 846.6 455.5 844.6M474.9 875.2L475.5 877.6 476.0 880.1 476.5 882.6 477.0 885.0 477.5 887.5 477.9 890.0 478.4 892.5 478.9 894.9 479.4 897.4 479.9 899.9 480.4 902.3 480.9 904.8 481.4 907.3 481.8 909.7 482.3 912.2M489.4 955.3L489.9 957.9 490.3 960.4 490.8 963.0 491.3 965.6 491.8 968.1 492.2 970.7 492.7 973.3 493.2 975.9 493.7 978.4 494.1 981.0 494.5 983.6 494.9 986.2 495.3 988.8M504.0 1022.5L506.4 1023.4 509.0 1022.9 511.3 1021.6 513.1 1019.7 514.6 1017.6 516.0 1015.4 517.6 1013.2 519.0 1011.0 520.4 1008.8 521.8 1006.6 523.1 1004.3 524.4 1002.0 525.7 999.7 526.9 997.4 528.0 995.0M543.4 953.3L544.3 950.8 545.1 948.3 546.0 945.9 546.9 943.4 547.7 940.9 548.6 938.4 549.4 936.0 550.3 933.5 551.1 931.0 552.0 928.5 552.8 926.1 553.7 923.6 554.5 921.1M568.6 878.2L569.5 875.7 570.3 873.2 571.1 870.7 571.9 868.2 572.8 865.7 573.6 863.2 574.4 860.8 575.2 858.3 576.1 855.8 576.9 853.3 577.7 850.8 578.5 848.3 579.3 845.8M593.4 803.5L594.3 801.1 595.2 798.6 596.1 796.1 596.9 793.6 597.8 791.2 598.7 788.7 599.7 786.3 600.6 783.8 601.5 781.4 602.4 778.9 603.4 776.5 604.3 774.0 605.3 771.6M622.2 729.9L623.3 727.4 624.3 725.0 625.3 722.6 626.4 720.2 627.4 717.8 628.5 715.4 629.5 713.0 630.6 710.6 631.6 708.2 632.7 705.8 633.7 703.4 634.8 701.0 635.9 698.6M655.5 658.0L656.8 655.8 658.3 653.7 659.8 651.6 661.3 649.6 662.9 647.6 664.5 645.6 666.1 643.6 667.5 641.5 669.0 639.4 670.5 637.3 672.1 635.3 673.7 633.4 675.5 631.5M715.5 600.0L717.9 599.1 720.3 598.7 722.8 598.6 725.4 598.6 727.9 598.8 730.3 599.2 732.8 599.7 735.2 600.3 737.7 600.9 740.1 601.6 742.4 602.6 744.5 604.0M776.4 640.9L778.0 643.0 779.5 645.2 781.0 647.3 782.5 649.5 784.0 651.7 785.5 653.9 786.9 656.1 788.3 658.3 789.7 660.6 791.1 662.8 792.5 665.1 793.8 667.4 795.1 669.7M815.6 710.6L816.8 712.9 817.9 715.3 819.0 717.7 820.1 720.1 821.2 722.4 822.3 724.8 823.5 727.2 824.6 729.6 825.7 731.9 826.8 734.3 827.9 736.7 829.0 739.1 830.0 741.5M848.4 784.5L849.4 786.9 850.4 789.3 851.4 791.7 852.4 794.2 853.5 796.6 854.5 799.0 855.5 801.4 856.5 803.8 857.6 806.2 858.6 808.7 859.6 811.1 860.6 813.5 861.6 815.9M878.9 857.5L879.9 859.9 880.9 862.3 881.9 864.7 882.9 867.1 883.9 869.6 884.9 872.0 885.9 874.4 886.9 876.8 887.9 879.3 888.9 881.7 889.9 884.1 890.9 886.5 891.9 889.0M908.9 930.2L909.9 932.6 911.0 935.0 912.0 937.4 913.1 939.8 914.2 942.2 915.3 944.6 916.4 947.0 917.5 949.4 918.6 951.8 919.7 954.1 920.8 956.5 921.9 958.9 923.0 961.3M942.2 999.5L943.5 1001.8 944.7 1004.1 946.0 1006.5 947.3 1008.8 948.6 1011.1 949.8 1013.4 951.2 1015.6 952.5 1017.9 953.8 1020.2 955.1 1022.5 956.4 1024.8 957.7 1027.1 959.0 1029.4M982.8 1067.7L984.3 1069.9 985.9 1072.0 987.5 1074.2 989.1 1076.3 990.7 1078.4 992.4 1080.5 994.0 1082.5 995.7 1084.6 997.5 1086.6 999.2 1088.6 1001.0 1090.6 1002.7 1092.6 1004.5 1094.6M1036.2 1125.3L1038.1 1126.9 1040.1 1128.6 1042.1 1130.2 1044.0 1131.8 1046.0 1133.4 1048.0 1134.9 1050.0 1136.5 1052.0 1138.0 1054.0 1139.6 1056.1 1141.1 1058.1 1142.6 1060.2 1144.1 1062.2 1145.6 1064.3 1147.1M1105.8 1172.5L1108.1 1173.8 1110.5 1175.0 1112.8 1176.2 1115.1 1177.4 1117.5 1178.5 1119.8 1179.7 1122.2 1180.8 1124.6 1181.9 1127.0 1183.0 1129.4 1184.1 1131.8 1185.1 1134.2 1186.1 1136.6 1187.1 1139.0 1188.1M1181.8 1202.6L1184.4 1203.3 1187.0 1204.1 1189.5 1204.8 1192.1 1205.6 1194.7 1206.3 1197.2 1207.1 1199.8 1207.8 1202.4 1208.5 1204.9 1209.3 1207.5 1210.0 1210.1 1210.7 1212.7 1211.3 1215.3 1212.0 1217.9 1212.7M1262.3 1222.8L1264.8 1223.3 1267.2 1223.8 1269.7 1224.3 1272.2 1224.8 1274.6 1225.3 1277.1 1225.8 1279.6 1226.3 1282.0 1226.7 1284.5 1227.2 1287.0 1227.6 1289.5 1228.1 1291.9 1228.5 1294.4 1228.9 1296.9 1229.3 1299.4 1229.7M1341.0 1236.0L1343.5 1236.5" stroke="#c85000"/></g>

<g font-family="Liberation Serif, serif" font-size="73">
<text x="738.5" y="66.8" fill="#ff0000">10</text>
<text x="535.5" y="141.5" fill="#0000ff">250</text>
<text x="862.5" y="159.3" fill="#000000">1 cycle</text>
<text x="706" y="424.2" fill="#00ff00">1250</text>
<text x="755" y="981" fill="#c85000">3500</text>
</g>
<g stroke-width="5" fill="none">
<line x1="763.7" y1="79" x2="746.7" y2="156" stroke="#ff0000"/>
<line x1="648.8" y1="115.3" x2="725" y2="152.3" stroke="#0000ff"/>
<line x1="846.4" y1="134.2" x2="745.6" y2="187.3" stroke="#000000"/>
</g>

</g>
</svg>
</body></html>
